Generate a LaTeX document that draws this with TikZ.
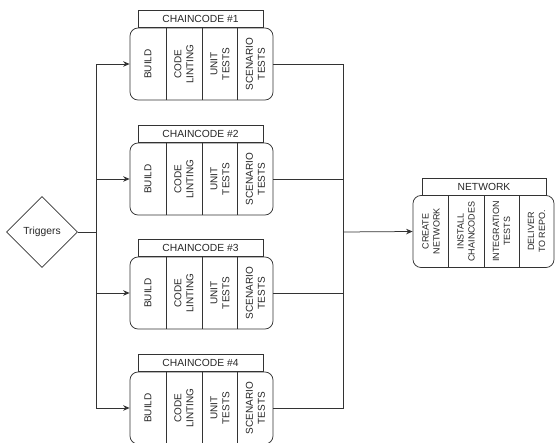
\documentclass[tikz,border=0pt]{standalone}
\usepackage{fontspec}
\setmainfont{Liberation Sans}
\usetikzlibrary{shapes.geometric,arrows.meta}
\tikzset{
  ln/.style={draw=black!80, line width=0.75pt},
  mainbox/.style={ln, rounded corners=8pt, minimum width=143pt, minimum height=72pt, inner sep=0pt},
  netbox/.style={ln, rounded corners=8pt, minimum width=141pt, minimum height=72pt, inner sep=0pt},
  titlebox/.style={ln, minimum height=17pt, inner sep=0pt, text=black!85, font=\fontsize{10.3}{12}\selectfont},
  coltxt/.style={rotate=90, align=center, text=black!85, inner sep=0pt, font=\fontsize{10}{12}\selectfont},
  nettxt/.style={rotate=90, align=center, text=black!85, inner sep=0pt, font=\fontsize{9}{11}\selectfont},
  arr/.style={ln, -{Stealth[length=6.5pt,width=5.5pt]}},
  trig/.style={ln, diamond, aspect=1, minimum width=71pt, minimum height=71pt, inner sep=0pt, text=black!85, font=\fontsize{10.3}{12}\selectfont}
}
\begin{document}
\begin{tikzpicture}[x=1pt,y=-1pt]
\useasboundingbox (0,0) rectangle (555,443);
% trigger
\node[trig] (trig) at (42,232) {Triggers};
\coordinate (split) at (96,232);
\coordinate (join) at (343,232);
% chaincode blocks
\foreach \i/\y in {1/64,2/179,3/293,4/408}{
  \node[mainbox] (cc\i) at (201.5,\y) {};
  \node[titlebox, minimum width=125pt, anchor=south] (cct\i) at (200.5,\y-36) {CHAINCODE \#\i};
  \draw[ln] (166,\y-36) -- (166,\y+36);
  \draw[ln] (202,\y-36) -- (202,\y+36);
  \draw[ln] (237.5,\y-36) -- (237.5,\y+36);
  \node[coltxt] (b\i) at (148,\y) {BUILD};
  \node[coltxt] (l\i) at (184,\y) {CODE\\LINTING};
  \node[coltxt] (u\i) at (220,\y) {UNIT\\TESTS};
  \node[coltxt] (s\i) at (255.5,\y) {SCENARIO\\TESTS};
  \draw[arr] (split) |- (cc\i.west);
  \draw[ln] (cc\i.east) -| (join);
}
\draw[ln] (trig.east) -- (split);
% network
\node[netbox] (net) at (483.5,231.5) {};
\node[titlebox, minimum width=124pt, anchor=south] (nett) at (484,195.5) {NETWORK};
\draw[ln] (448.5,195.5) -- (448.5,267.5);
\draw[ln] (484,195.5) -- (484,267.5);
\draw[ln] (519,195.5) -- (519,267.5);
\node[nettxt] (n1) at (431,231.5) {CREATE\\NETWORK};
\node[nettxt] (n2) at (466,231.5) {INSTALL\\CHAINCODES};
\node[nettxt] (n3) at (501.5,231.5) {INTEGRATION\\TESTS};
\node[nettxt] (n4) at (536.5,231.5) {DELIVER\\TO REPO.};
\draw[arr] (join) -- (net.west);
\end{tikzpicture}
\end{document}
